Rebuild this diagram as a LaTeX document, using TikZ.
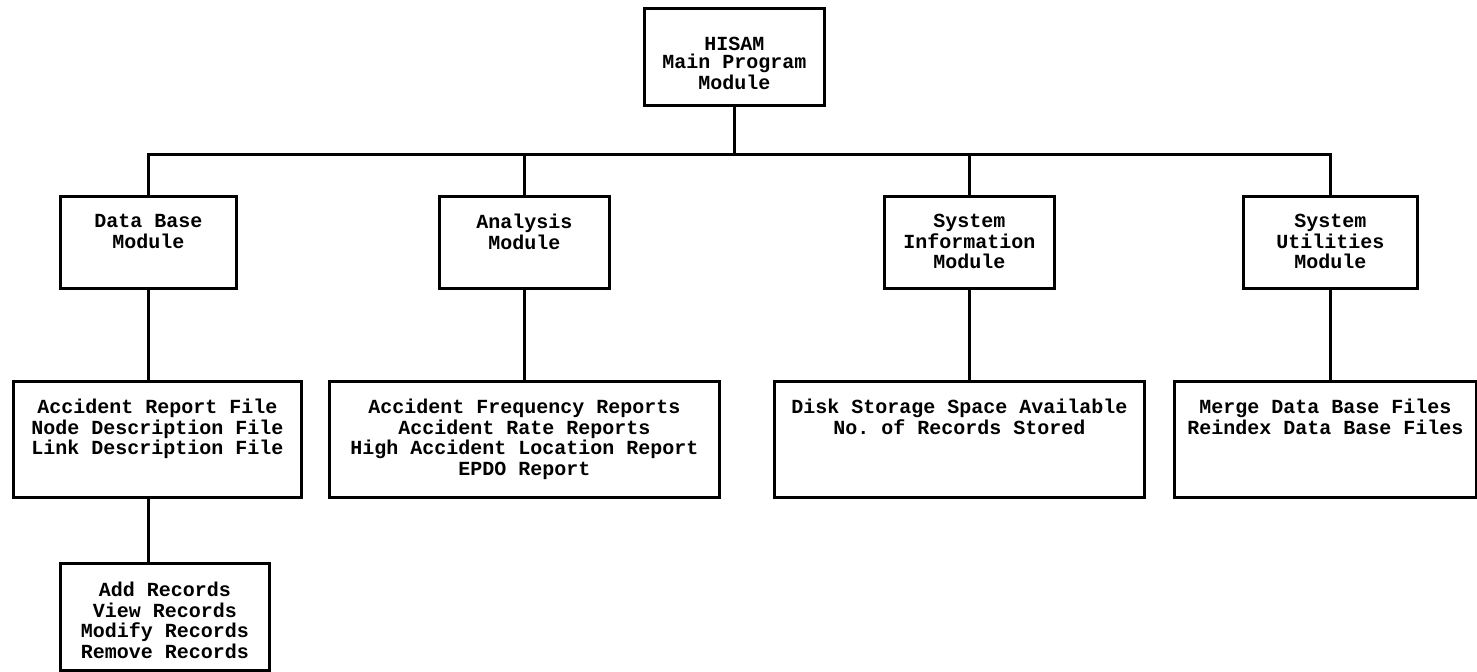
\documentclass[tikz,border=0pt]{standalone}
\usepackage{fontspec}
\newfontfamily\modfont{Liberation Mono}
\tikzset{
  modbox/.style={draw, line width=1.3pt, inner sep=0pt, anchor=north west,
    font=\modfont\bfseries\fontsize{10}{10.25}\selectfont},
  wire/.style={line width=1.3pt},
}
% fixed size box, text hung from the top
\newcommand{\boxtxt}[4]{\parbox[t][#2][t]{#1}{\vskip#3\centering #4\par}}

\begin{document}
\begin{tikzpicture}[x=0.5pt,y=-0.5pt]
\useasboundingbox (0,0) rectangle (1477,672);
% main program
\node[modbox,font=\modfont\bfseries\fontsize{10}{9}\selectfont] at (643,7)(main){\boxtxt{90pt}{48.5pt}{14.5pt}{HISAM\\Main Program\\Module}};
% modules
\node[modbox] at (59,195)(db){\boxtxt{88pt}{46pt}{9pt}{Data Base\\Module}};
\node[modbox] at (438,195)(an){\boxtxt{85pt}{46pt}{9pt}{Analysis\\Module}};
\node[modbox] at (883,195)(info){\boxtxt{85pt}{46pt}{9pt}{System\\Information\\Module}};
\node[modbox] at (1242,195)(util){\boxtxt{87pt}{46pt}{9pt}{System\\Utilities\\Module}};
% contents
\node[modbox] at (12,380)(dbfiles){\boxtxt{144pt}{58pt}{9pt}{Accident Report File\\Node Description File\\Link Description File}};
\node[modbox] at (328,380)(anrep){\boxtxt{195pt}{58pt}{9pt}{Accident Frequency Reports\\Accident Rate Reports\\High Accident Location Report\\EPDO Report}};
\node[modbox] at (773,380)(disk){\boxtxt{185pt}{58pt}{9pt}{Disk Storage Space Available\\No.\ of Records Stored}};
\node[modbox] at (1173,380)(merge){\boxtxt{151pt}{58pt}{9pt}{Merge Data Base Files\\Reindex Data Base Files}};
\node[modbox] at (59,562)(recs){\boxtxt{104.5pt}{53.5pt}{9.5pt}{Add Records\\View Records\\Modify Records\\Remove Records}};
% tree lines
\path (main.south) ++(0,48) coordinate (bus);
\draw[wire] (main.south) -- (bus);
\foreach \m in {db,an,info,util}{
  \draw[wire] (\m.north) |- (bus);
}
\draw[wire] (db.south) -- (db.south |- dbfiles.north);
\draw[wire] (an.south) -- (an.south |- anrep.north);
\draw[wire] (info.south) -- (info.south |- disk.north);
\draw[wire] (util.south) -- (util.south |- merge.north);
\draw[wire] (db.south |- dbfiles.south) -- (db.south |- recs.north);
\end{tikzpicture}
\end{document}
